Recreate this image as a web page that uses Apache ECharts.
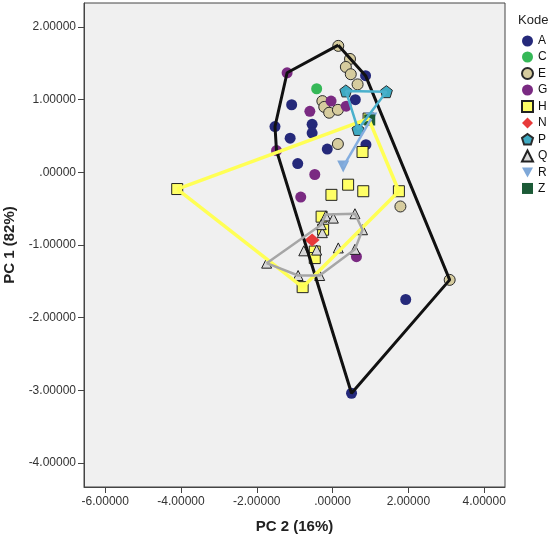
<!DOCTYPE html>
<html>
<head>
<meta charset="utf-8">
<script src="https://cdn.jsdelivr.net/npm/echarts@6/dist/echarts.min.js"></script>
<style>
html, body { margin: 0; padding: 0; background: #fff; }
#chart { width: 552px; height: 535px; }
</style>
</head>
<body>
<div id="chart"></div>
<script>
// kelompok titik (PC 2, PC 1)
var kodeA = [[-1.52,0.63],[-1.08,0.93],[-0.54,0.66],[-0.54,0.54],[-1.12,0.47],[-0.14,0.32],[-0.92,0.12],[0.87,1.33],[0.60,1.00],[0.88,0.38],[0.50,-3.04],[1.93,-1.75]];
var kodeC = [[-0.42,1.15]];
var kodeE = [[0.15,1.74],[0.46,1.56],[0.35,1.45],[0.48,1.35],[0.66,1.21],[-0.27,0.98],[-0.22,0.90],[-0.09,0.82],[0.14,0.86],[0.14,0.39],[1.79,-0.47],[3.09,-1.48]];
var kodeG = [[-1.20,1.37],[-0.60,0.84],[-1.48,0.30],[-0.47,-0.03],[-0.84,-0.34],[-0.04,0.98],[0.36,0.91],[0.63,-1.16]];
var kodeH = [[-4.10,-0.23],[0.79,0.28],[0.41,-0.17],[0.81,-0.26],[-0.03,-0.31],[1.75,-0.26],[-0.79,-1.58],[-0.29,-0.61],[-0.25,-0.79],[-0.47,-1.09],[-0.47,-1.18],[0.95,0.74]];
var kodeN = [[-0.54,-0.93]];
var kodeP = [[0.35,1.12],[1.42,1.11],[0.67,0.59]];
var kodeQ = [[-0.18,-0.60],[0.02,-0.63],[0.59,-0.57],[0.79,-0.79],[0.59,-1.06],[0.15,-1.04],[-0.27,-0.83],[-0.30,-0.72],[-0.42,-1.07],[-0.76,-1.08],[-1.74,-1.25],[-0.91,-1.42],[-0.34,-1.42]];
var kodeR = [[0.28,0.08],[1.02,0.74]];
var kodeZ = [[0.98,0.72]];

// garis hull (convex hull tiap kelompok)
var hullA = [[0.15,1.75],[0.87,1.33],[3.09,-1.48],[0.50,-3.04],[-1.48,0.30],[-1.52,0.63],[-1.20,1.37],[0.15,1.75]];
var hullH = [[-4.10,-0.23],[0.95,0.74],[1.75,-0.26],[-0.79,-1.58],[-4.10,-0.23]];
var hullQ = [[-1.74,-1.25],[-0.30,-0.72],[-0.18,-0.58],[0.59,-0.57],[0.79,-0.79],[0.59,-1.06],[-0.34,-1.42],[-0.91,-1.42],[-1.74,-1.25]];
var hullP = [[0.35,1.12],[1.42,1.11],[0.67,0.59],[0.35,1.12]];
var hullR = [[0.28,0.08],[1.02,0.74]];

var xTicks = [-6, -4, -2, 0, 2, 4];
var yTicks = [-4, -3, -2, -1, 0, 1, 2];

var fmt = function(v){
	var s = Number(v).toFixed(5);
	if (s.indexOf('0.') === 0) s = s.substring(1);
	return s;
};

var pentagon = 'path://M5,0 L10,3.63 L8.09,9.51 L1.91,9.51 L0,3.63 Z';
var diamond = 'path://M6,0 L12,6 L6,12 L0,6 Z';
var downTri = 'path://M0,0 L10,0 L5,9 Z';

function pts(name, data, symbol, size, color, border){
	return {
		name: name,
		type: 'scatter',
		data: data,
		symbol: symbol,
		symbolSize: size,
		z: 2,
		itemStyle: {
			color: color,
			borderColor: border || color,
			borderWidth: border ? 1 : 0,
			opacity: 1
		}
	};
}

function hull(data, color, width){
	return {
		type: 'line',
		data: data,
		symbol: 'none',
		z: 3,
		silent: true,
		lineStyle: { color: color, width: width }
	};
}

var myChart = echarts.init(document.getElementById('chart'));
var option = {
	animation: false,
	title: {
		text: 'Kode',
		left: 513,
		top: 9,
		textStyle: { fontSize: 13, fontWeight: 'normal', color: '#222', fontFamily: 'Liberation Sans' }
	},
	legend: {
		orient: 'vertical',
		left: 516,
		top: 30,
		itemGap: 4,
		itemWidth: 11,
		itemHeight: 11,
		textStyle: { fontSize: 12, color: '#111', fontFamily: 'Liberation Sans' },
		data: ['A','C','E','G','H','N','P','Q','R','Z']
	},
	grid: {
		left: 84, right: 47, top: 3, bottom: 48,
		outerBoundsMode: 'none',
		containLabel: false,
		show: true,
		backgroundColor: '#f0f0f0',
		borderColor: '#444',
		borderWidth: 1
	},
	xAxis: {
		type: 'value',
		min: -6.56,
		max: 4.55,
		name: 'PC 2 (16%)',
		nameLocation: 'middle',
		nameGap: 32,
		nameTextStyle: { fontSize: 15, fontWeight: 'bold', color: '#222', fontFamily: 'Liberation Sans' },
		splitLine: { show: false },
		axisLine: { onZero: false, lineStyle: { color: '#444' } },
		axisTick: { customValues: xTicks, length: 6, lineStyle: { color: '#444' } },
		axisLabel: { customValues: xTicks, formatter: fmt, fontSize: 12, color: '#333', margin: 9, fontFamily: 'Liberation Sans' }
	},
	yAxis: {
		type: 'value',
		min: -4.33,
		max: 2.33,
		name: 'PC 1 (82%)',
		nameLocation: 'middle',
		nameGap: 60,
		nameTextStyle: { fontSize: 15, fontWeight: 'bold', color: '#222', fontFamily: 'Liberation Sans' },
		splitLine: { show: false },
		axisLine: { onZero: false, lineStyle: { color: '#444' } },
		axisTick: { customValues: yTicks, length: 6, lineStyle: { color: '#444' } },
		axisLabel: { customValues: yTicks, formatter: fmt, fontSize: 12, color: '#333', margin: 8, fontFamily: 'Liberation Sans' }
	},
	series: [
		pts('A', kodeA, 'circle', 11, '#25297a'),
		pts('C', kodeC, 'circle', 11, '#35b857'),
		pts('E', kodeE, 'circle', 11, '#d6cc9e', '#2a2a2a'),
		pts('G', kodeG, 'circle', 11, '#7a2a82'),
		pts('H', kodeH, 'rect', 11, '#ffff66', '#222'),
		pts('N', kodeN, diamond, [15, 13], '#e83a3a'),
		pts('P', kodeP, pentagon, 12, '#3eaac2', '#2a2a2a'),
		pts('Q', kodeQ, 'triangle', 10, '#d8d8d8', '#222'),
		pts('R', kodeR, downTri, 12, '#7fa8d8'),
		pts('Z', kodeZ, 'rect', 11, '#1b5a36'),
		hull(hullA, '#111', 3),
		hull(hullH, '#ffff55', 3.5),
		hull(hullQ, '#a6a6a6', 2.5),
		hull(hullP, '#4ab0cc', 2.5),
		hull(hullR, '#84aee0', 2.5)
	]
};
myChart.setOption(option);
</script>
</body>
</html>
